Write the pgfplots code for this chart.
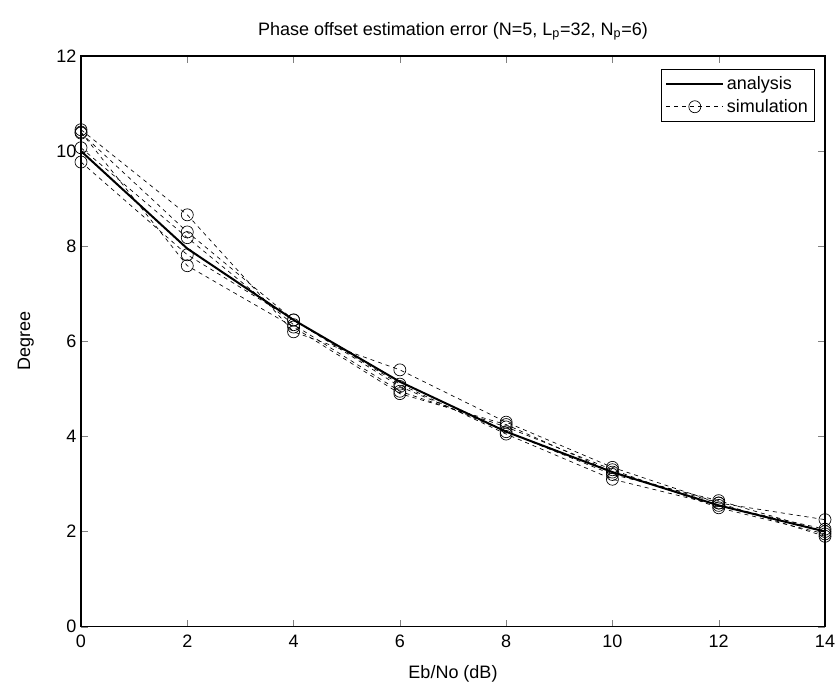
\documentclass[border=0pt]{standalone}
\usepackage{pgfplots}
\pgfplotsset{compat=1.18}
\usepackage{fontspec}
\setmainfont{Liberation Sans}
\begin{document}
\begin{tikzpicture}
\begin{axis}[
  name=ax,
  scale only axis,
  width=558pt, height=428pt,
  xmin=0, xmax=14, ymin=0, ymax=12,
  xtick={0,2,...,14}, ytick={0,2,...,12},
  tick align=inside,
  major tick length=5pt,
  /pgf/number format/assume math mode=true,
  tick label style={font=\fontsize{13.5}{15}\selectfont},
  xticklabel style={yshift=-3pt},
  label style={font=\fontsize{13.5}{15}\selectfont},
  title style={font=\fontsize{13.5}{15}\selectfont, yshift=2pt},
  title={Phase offset estimation error (N=5, L\textsubscript{p}=32, N\textsubscript{p}=6)},
  xlabel={Eb/No (dB)},
  ylabel={Degree},
  xlabel style={yshift=-6pt},
  ylabel style={yshift=10pt},
  axis line style={line width=0.8pt},
  legend style={at={(0.9866,0.977)}, anchor=north east, draw=black, line width=0.6pt,
    font=\fontsize{13.5}{15}\selectfont, row sep=2pt, inner sep=3pt},
  legend cell align=left,
  legend image code/.code={\draw[mark repeat=2,mark phase=2,#1] plot coordinates {(0cm,0cm) (0.75cm,0cm) (1.5cm,0cm)};},
]
\addplot[black, line width=1.5pt] coordinates {(0,10.0) (2,7.95) (4,6.45) (6,5.15) (8,4.1) (10,3.25) (12,2.55) (14,2.0)};
\addlegendentry{analysis}
\addplot[black, dashed, line width=0.5pt, mark=o, mark size=4.5pt, mark options={solid}] coordinates {(0,10.45) (2,8.66) (4,6.2) (6,5.4) (8,4.3) (10,3.35) (12,2.6) (14,2.25)};
\addlegendentry{simulation}
\addplot[black, dashed, line width=0.5pt, mark=o, mark size=4.5pt, mark options={solid}, forget plot] coordinates {(0,10.38) (2,8.30) (4,6.45) (6,5.05) (8,4.1) (10,3.2) (12,2.65) (14,2.0)};
\addplot[black, dashed, line width=0.5pt, mark=o, mark size=4.5pt, mark options={solid}, forget plot] coordinates {(0,10.07) (2,8.18) (4,6.35) (6,4.95) (8,4.2) (10,3.3) (12,2.5) (14,1.95)};
\addplot[black, dashed, line width=0.5pt, mark=o, mark size=4.5pt, mark options={solid}, forget plot] coordinates {(0,9.77) (2,7.82) (4,6.45) (6,5.1) (8,4.05) (10,3.1) (12,2.55) (14,2.05)};
\addplot[black, dashed, line width=0.5pt, mark=o, mark size=4.5pt, mark options={solid}, forget plot] coordinates {(0,10.40) (2,7.59) (4,6.3) (6,4.9) (8,4.25) (10,3.25) (12,2.6) (14,1.9)};
\end{axis}
\pgfresetboundingbox
\path[use as bounding box] ([xshift=-60.75pt,yshift=-48.75pt]ax.south west) rectangle ([xshift=9.75pt,yshift=42pt]ax.north east);
\end{tikzpicture}
\end{document}
